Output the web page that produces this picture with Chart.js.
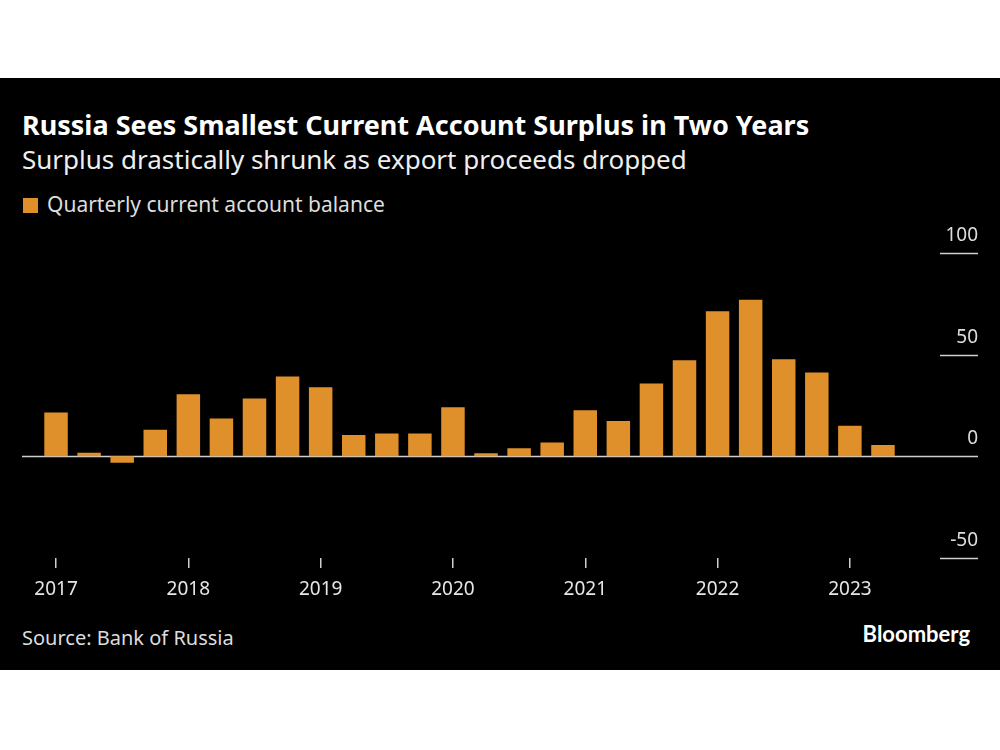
<!DOCTYPE html>
<html>
<head>
<meta charset="utf-8">
<script src="https://cdn.jsdelivr.net/npm/chart.js@4.4.0/dist/chart.umd.min.js"></script>
<style>
  html, body { margin: 0; padding: 0; background: #fff; }
  body { width: 1000px; height: 750px; position: relative; overflow: hidden; font-family: "Noto Sans", sans-serif; }
  #panel { position: absolute; left: 0; top: 78px; width: 1000px; height: 592px; background: #000; }
  .txt { position: absolute; white-space: nowrap; }
  #title { left: 22px; top: 111px; font-size: 27px; line-height: 27px; font-weight: 700; color: #fff; }
  #subtitle { left: 22px; top: 146px; font-size: 26px; line-height: 26px; color: #eee; }
  #legend { left: 23px; top: 194px; font-size: 21px; line-height: 21px; color: #ddd; }
  #legend .box { display: inline-block; width: 15px; height: 15px; background: #E0902B; margin-right: 9px; vertical-align: -1px; }
  #source { left: 22px; top: 628px; font-size: 20px; line-height: 20px; color: #ddd; }
  #logo { right: 30px; top: 623px; font-family: Lato, sans-serif; font-size: 22px; line-height: 22px; font-weight: 700; color: #fff; }
  #wrap { position: absolute; left: 0; top: 200px; width: 1000px; height: 410px; }
</style>
</head>
<body>
<div id="panel"></div>
<div class="txt" id="title">Russia Sees Smallest Current Account Surplus in Two Years</div>
<div class="txt" id="subtitle">Surplus drastically shrunk as export proceeds dropped</div>
<div class="txt" id="legend"><span class="box"></span>Quarterly current account balance</div>
<div class="txt" id="source">Source: Bank of Russia</div>
<div class="txt" id="logo">Bloomberg</div>
<div id="wrap"><canvas id="chart"></canvas></div>
<script>
// ── Data ─────────────────────────────────────────────────────
const QUARTERS = [
  '2017 Q1','2017 Q2','2017 Q3','2017 Q4',
  '2018 Q1','2018 Q2','2018 Q3','2018 Q4',
  '2019 Q1','2019 Q2','2019 Q3','2019 Q4',
  '2020 Q1','2020 Q2','2020 Q3','2020 Q4',
  '2021 Q1','2021 Q2','2021 Q3','2021 Q4',
  '2022 Q1','2022 Q2','2022 Q3','2022 Q4',
  '2023 Q1','2023 Q2'
];
const BALANCE = [
  21.5, 1.8, -3.1, 13.1,
  30.5, 18.6, 28.4, 39.3,
  34.0, 10.5, 11.2, 11.2,
  24.1, 1.5, 4.0, 6.8,
  22.7, 17.4, 35.8, 47.3,
  71.3, 77.0, 47.8, 41.2,
  15.1, 5.6
];
const Y_TICKS = [100, 50, 0, -50];

const BAR_COLOR = '#E0902B';
const LINE_COLOR = '#cfcfcf';
const FONT = '"Noto Sans", sans-serif';

// ── Right-hand value labels + short grid lines ───────────────
const yLabels = {
  id: 'yLabels',
  beforeDatasetsDraw(chart) {
    const { ctx } = chart;
    const y = chart.scales.y;
    ctx.save();
    ctx.font = '19px ' + FONT;
    ctx.textAlign = 'right';
    ctx.textBaseline = 'alphabetic';
    Y_TICKS.forEach(v => {
      const py = Math.round(y.getPixelForValue(v)) + 0.5;
      ctx.strokeStyle = LINE_COLOR;
      ctx.lineWidth = v === 0 ? 1.6 : 1.4;
      ctx.beginPath();
      ctx.moveTo(v === 0 ? 22 : 940, py);
      ctx.lineTo(978, py);
      ctx.stroke();
      ctx.fillStyle = '#dddddd';
      ctx.fillText(String(v), 978, py - 13);
    });
    ctx.restore();
  }
};

new Chart(document.getElementById('chart'), {
  type: 'bar',
  data: {
    labels: QUARTERS,
    datasets: [{
      label: 'Quarterly current account balance',
      data: BALANCE,
      backgroundColor: BAR_COLOR,
      borderWidth: 0,
      categoryPercentage: 1,
      barPercentage: 0.71,
    }]
  },
  options: {
    responsive: true,
    maintainAspectRatio: false,
    animation: false,
    layout: { padding: { left: 39.5, right: 100.5, top: 53, bottom: 0 } },
    plugins: {
      legend: { display: false },
      tooltip: { enabled: false }
    },
    scales: {
      x: {
        offset: true,
        border: { display: false },
        grid: {
          offset: false,
          drawOnChartArea: false,
          drawTicks: true,
          tickLength: 10,
          lineWidth: 1.5,
          color: c => (c.index % 4 === 0 ? LINE_COLOR : 'transparent')
        },
        ticks: {
          autoSkip: false,
          maxRotation: 0,
          padding: 10,
          color: '#e6e6e6',
          font: { family: FONT, size: 19 },
          callback: (v, i) => (i % 4 === 0 ? QUARTERS[i].slice(0, 4) : '')
        },
        afterFit: s => { s.height = 52; }
      },
      y: {
        display: false,
        min: -50,
        max: 100
      }
    }
  },
  plugins: [yLabels]
});
</script>
</body>
</html>
